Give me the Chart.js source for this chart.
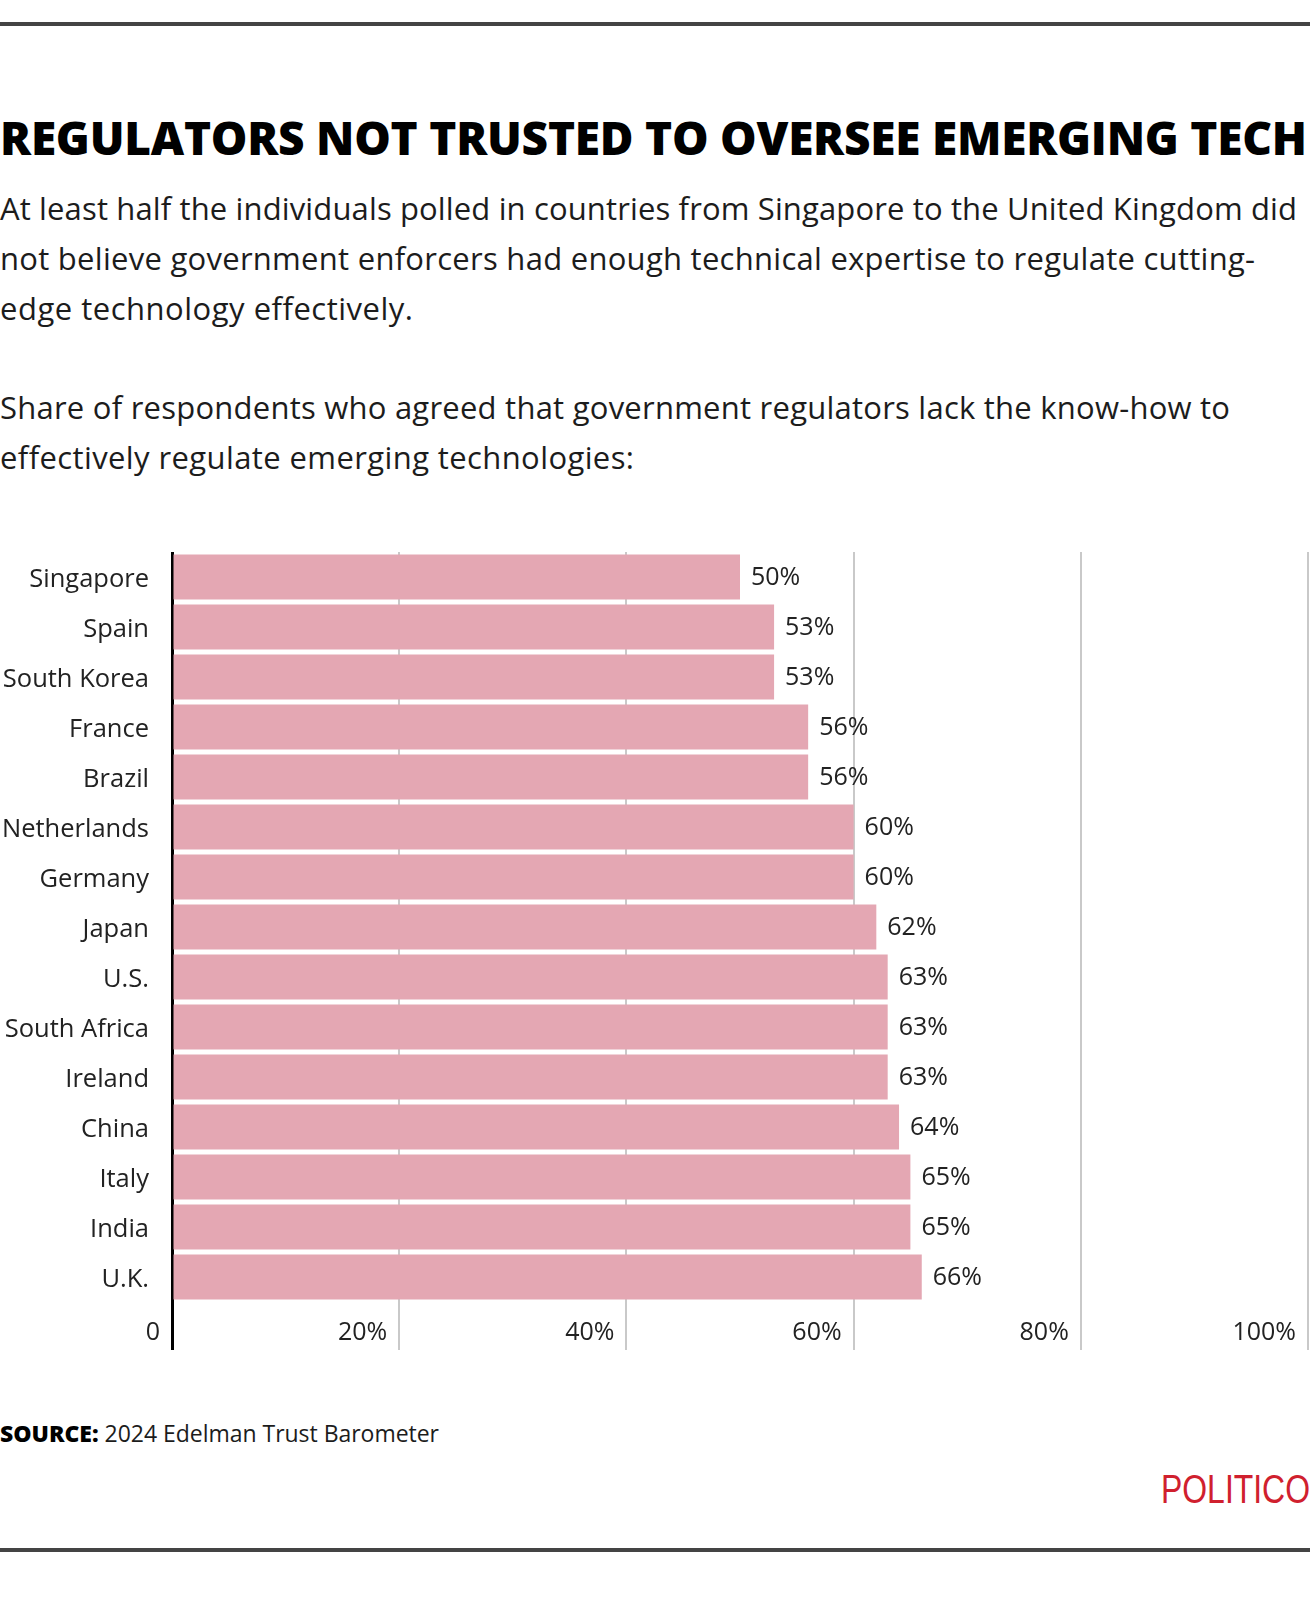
<!DOCTYPE html>
<html>
<head>
<meta charset="utf-8">
<script src="https://cdn.jsdelivr.net/npm/chart.js@4.4.1/dist/chart.umd.min.js"></script>
<style>
  body { margin:0; width:1310px; height:1598px; position:relative; overflow:hidden; background:#fff;
         font-family:"Open Sans", sans-serif; color:#1c1c1c; }
  .rule { position:absolute; left:0; width:1310px; height:4px; background:#444; }
  .line { position:absolute; left:0; white-space:nowrap; display:inline-block; }
  #title { top:114px; font-size:46px; line-height:46px; font-weight:800; color:#000; }
  .sub { font-size:31px; line-height:50px; }
  #source { top:1422px; font-size:23px; line-height:23px; }
  #source b { font-weight:800; color:#000; }
  #logo { position:absolute; left:1161px; top:1469px; font-family:"Liberation Sans", Arial, sans-serif;
          font-size:40px; line-height:40px; color:#d0202e; transform-origin:0 0; white-space:nowrap; }
  #wrap { position:absolute; left:0; top:540px; width:1310px; height:822px; }
</style>
</head>
<body>
<div class="rule" style="top:22px"></div>

<div class="line" id="title" data-w="1307">REGULATORS NOT TRUSTED TO OVERSEE EMERGING TECH</div>

<div class="line sub" style="top:183px" data-w="1297">At least half the individuals polled in countries from Singapore to the United Kingdom did</div>
<div class="line sub" style="top:233px" data-w="1255">not believe government enforcers had enough technical expertise to regulate cutting-</div>
<div class="line sub" style="top:283px" data-w="413">edge technology effectively.</div>

<div class="line sub" style="top:382px" data-w="1230">Share of respondents who agreed that government regulators lack the know-how to</div>
<div class="line sub" style="top:432px" data-w="634">effectively regulate emerging technologies:</div>

<div id="wrap"><canvas id="chart"></canvas></div>

<div class="line" id="source" data-w="439"><b>SOURCE:</b> 2024 Edelman Trust Barometer</div>
<div id="logo">POLITICO</div>

<div class="rule" style="top:1548px"></div>

<script>
// data
let countries = ['Singapore','Spain','South Korea','France','Brazil','Netherlands','Germany','Japan','U.S.','South Africa','Ireland','China','Italy','India','U.K.'];
let shares = [50,53,53,56,56,60,60,62,63,63,63,64,65,65,66];
let xTicks = [0,20,40,60,80,100];

let barColor = '#e4a7b3';
let gridColor = 'rgba(90,90,90,0.33)';

function fitText(){
    document.querySelectorAll('.line').forEach(function(el){
        let target = +el.dataset.w;
        let w = el.getBoundingClientRect().width;
        let n = el.textContent.length - 1;
        el.style.letterSpacing = ((target - w) / n) + 'px';
    });
    let logo = document.getElementById('logo');
    logo.style.transform = 'scaleX(' + (149 / logo.getBoundingClientRect().width) + ')';
}

// value labels at the end of each bar
let valueLabels = {
    id: 'valueLabels',
    afterDraw: function(chart){
        let ctx = chart.ctx;
        let meta = chart.getDatasetMeta(0);
        ctx.save();
        ctx.font = '25px "Open Sans"';
        ctx.fillStyle = '#222';
        ctx.textBaseline = 'middle';
        ctx.textAlign = 'left';
        meta.data.forEach(function(bar, i){
            ctx.fillText(shares[i] + '%', bar.x + 11, bar.y + 1);
        });
        ctx.restore();
    }
};

function drawChart(){
    let ctx = document.getElementById('chart').getContext('2d');
    new Chart(ctx, {
        type: 'bar',
        data: {
            labels: countries,
            datasets: [{
                data: shares,
                backgroundColor: barColor,
                barPercentage: 0.9,
                categoryPercentage: 1
            }]
        },
        options: {
            indexAxis: 'y',
            responsive: true,
            maintainAspectRatio: false,
            animation: false,
            layout: { padding: { top: 12, right: 2, bottom: 0, left: 0 } },
            plugins: { legend: { display: false }, tooltip: { enabled: false } },
            scales: {
                x: {
                    z: 1,
                    min: 0,
                    max: 100,
                    afterBuildTicks: function(scale){ scale.ticks = xTicks.map(function(v){ return { value: v }; }); },
                    afterFit: function(scale){ scale.height = 60; scale.paddingLeft = 0; scale.paddingRight = 0; },
                    border: { display: false },
                    grid: {
                        color: function(c){ return c.tick && c.tick.value === 0 ? '#000' : gridColor; },
                        lineWidth: function(c){ return c.tick && c.tick.value === 0 ? 3 : 2; },
                        drawTicks: true,
                        tickLength: 48
                    },
                    ticks: {
                        align: 'end',
                        labelOffset: -12,
                        padding: -32,
                        maxRotation: 0,
                        autoSkip: false,
                        color: '#222',
                        font: { family: 'Open Sans', size: 25 },
                        callback: function(v){ return v === 0 ? '0' : v + '%'; }
                    }
                },
                y: {
                    afterFit: function(scale){ scale.width = 172; scale.paddingTop = 0; scale.paddingBottom = 0; },
                    border: { display: false },
                    grid: { display: false, drawTicks: false },
                    ticks: {
                        padding: 23,
                        labelOffset: 3,
                        color: '#222',
                        font: { family: 'Open Sans', size: 25.5 }
                    }
                }
            }
        },
        plugins: [valueLabels]
    });
}

Promise.all([
    document.fonts.load('25px "Open Sans"'),
    document.fonts.load('800 46px "Open Sans"'),
    document.fonts.load('40px "Liberation Sans"')
]).catch(function(){}).then(function(){
    fitText();
    drawChart();
});
</script>
</body>
</html>
